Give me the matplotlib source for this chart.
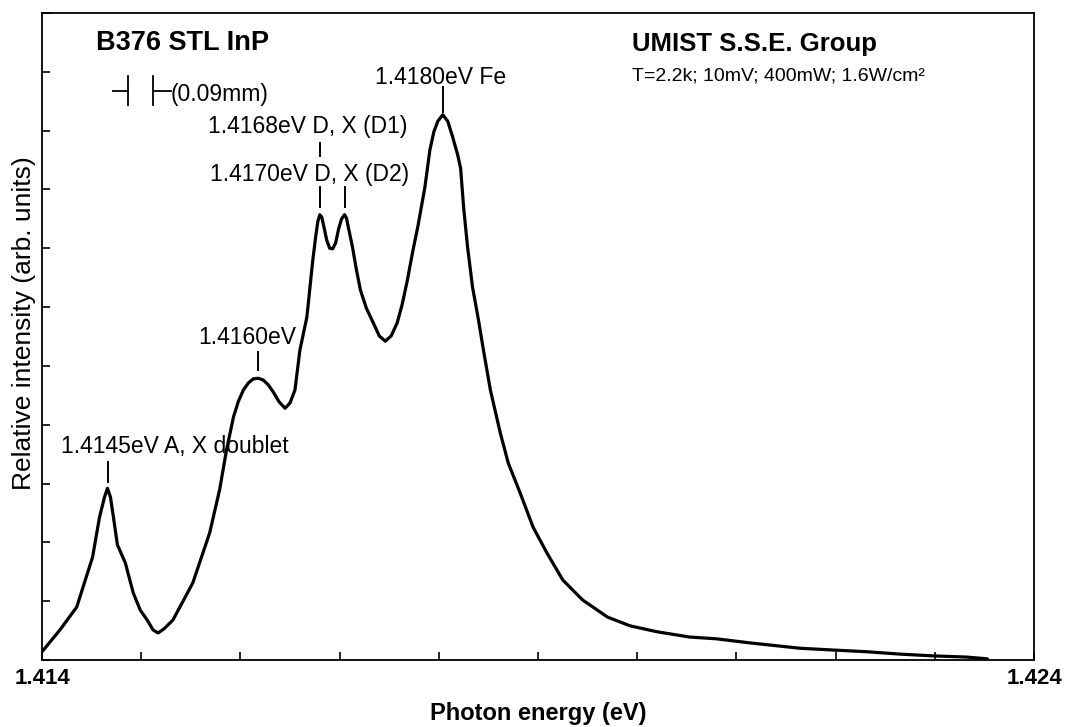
import matplotlib
matplotlib.use("Agg")
import matplotlib.pyplot as plt

plt.rcParams['font.family'] = ['Liberation Sans', 'DejaVu Sans']

# ---- data ----
energy_eV = [1.41400, 1.41418, 1.41435, 1.41451, 1.41458, 1.41463, 1.41466, 1.41469,
             1.41472, 1.41476, 1.41484, 1.41492, 1.41499, 1.41506, 1.41512, 1.41517,
             1.41523, 1.41532, 1.41552, 1.41569, 1.41579, 1.41586, 1.41593, 1.41598,
             1.41603, 1.41608, 1.41613, 1.41618, 1.41623, 1.41628, 1.41633, 1.41639,
             1.41645, 1.41650, 1.41655, 1.41660, 1.41667, 1.41673, 1.41676, 1.41678,
             1.41680, 1.41682, 1.41684, 1.41687, 1.41690, 1.41693, 1.41696, 1.41699,
             1.41702, 1.41705, 1.41707, 1.41709, 1.41713, 1.41717, 1.41721, 1.41727,
             1.41734, 1.41740, 1.41746, 1.41752, 1.41758, 1.41763, 1.41768, 1.41774,
             1.41779, 1.41786, 1.41791, 1.41795, 1.41799, 1.41804, 1.41809, 1.41814,
             1.41819, 1.41822, 1.41825, 1.41829, 1.41834, 1.41840, 1.41845, 1.41852,
             1.41862, 1.41870, 1.41882, 1.41895, 1.41909, 1.41925, 1.41945, 1.41970,
             1.41993, 1.42020, 1.42053, 1.42080, 1.42114, 1.42164, 1.42197, 1.42232,
             1.42265, 1.42298, 1.42332, 1.42353]
intensity = [0.14, 0.51, 0.90, 1.75, 2.43, 2.77, 2.92, 2.77,
             2.43, 1.96, 1.65, 1.14, 0.85, 0.68, 0.51, 0.46,
             0.53, 0.68, 1.31, 2.16, 2.89, 3.57, 4.13, 4.40,
             4.59, 4.71, 4.78, 4.79, 4.76, 4.68, 4.56, 4.39,
             4.28, 4.37, 4.59, 5.27, 5.83, 6.80, 7.21, 7.45,
             7.57, 7.53, 7.38, 7.14, 7.00, 6.99, 7.09, 7.33,
             7.50, 7.57, 7.51, 7.34, 7.02, 6.63, 6.29, 5.98,
             5.73, 5.51, 5.42, 5.51, 5.73, 6.04, 6.43, 6.97,
             7.38, 8.04, 8.67, 8.98, 9.16, 9.27, 9.16, 8.89,
             8.59, 8.36, 7.70, 7.02, 6.34, 5.78, 5.27, 4.59,
             3.86, 3.35, 2.84, 2.26, 1.82, 1.36, 1.02, 0.73,
             0.58, 0.48, 0.39, 0.36, 0.29, 0.20, 0.17, 0.14,
             0.10, 0.07, 0.05, 0.02]

x_min, x_max = 1.414, 1.424
y_min, y_max = 0, 11
x_tick_values = [1.414 + 0.001 * i for i in range(11)]
x_tick_labels = ['1.414'] + [''] * 9 + ['1.424']
y_tick_values = list(range(0, 12))

peak_labels = ['1.4180eV Fe', '1.4168eV D, X (D1)', '1.4170eV D, X (D2)',
               '1.4160eV', '1.4145eV A, X doublet']
peak_tick_energy = [1.41804, 1.41680, 1.41705, 1.41618, 1.41467]

W, H = 1066, 727
fig = plt.figure(figsize=(W / 100, H / 100), dpi=100)
L, R, T, B = 42, 1034, 13, 660
ax = fig.add_axes([L / W, (H - B) / H, (R - L) / W, (B - T) / H])

ax.plot(energy_eV, intensity, color='black', lw=2.3, solid_joinstyle='round',
        solid_capstyle='round')
ax.set_xlim(x_min, x_max)
ax.set_ylim(y_min, y_max)
ax.set_xticks(x_tick_values)
ax.set_xticklabels(x_tick_labels, fontsize=16, fontweight='bold')
ax.set_yticks(y_tick_values)
ax.set_yticklabels([])
ax.tick_params(axis='both', direction='in', length=6, width=1.2, color='black')
ax.tick_params(axis='x', pad=6)
for s in ax.spines.values():
    s.set_linewidth(1.3)

ax.set_xlabel('Photon energy (eV)', fontsize=17, fontweight='bold', labelpad=9)
ax.set_ylabel('Relative intensity (arb. units)', fontsize=19)
ax.yaxis.set_label_coords(-0.006, 0.521)


def px(xp):
    return x_min + (xp - L) / (R - L) * (x_max - x_min)


def py(yp):
    return y_min + (B - yp) / (B - T) * (y_max - y_min)


fs = 16.5
ax.text(px(96), py(43), 'B376 STL InP', fontsize=19.5, fontweight='bold', ha='left', va='center')
ax.text(px(632), py(44), 'UMIST S.S.E. Group', fontsize=18.5, fontweight='bold', ha='left', va='center')
ax.text(px(632), py(76), 'T=2.2k; 10mV; 400mW; 1.6W/cm²', fontsize=14, ha='left', va='center')

# slit-width bracket symbol
ax.plot([px(113), px(128)], [py(91), py(91)], color='black', lw=1.3)
ax.plot([px(128), px(128)], [py(76), py(105)], color='black', lw=1.3)
ax.plot([px(153), px(153)], [py(76), py(105)], color='black', lw=1.3)
ax.plot([px(153), px(171)], [py(91), py(91)], color='black', lw=1.3)
ax.text(px(171), py(94), '(0.09mm)', fontsize=fs, ha='left', va='center')

# peak labels
label_pos = [(441, 77), (308, 127), (310, 175), (247, 337), (175, 447)]
for lab, (tx, ty) in zip(peak_labels, label_pos):
    ax.text(px(tx), py(ty), lab, fontsize=fs, ha='center', va='center')

tick_spans = [(87, 112), (143, 156), (187, 207), (187, 207), (352, 370), (462, 482)]
tick_e = [peak_tick_energy[0], peak_tick_energy[1], peak_tick_energy[1],
          peak_tick_energy[2], peak_tick_energy[3], peak_tick_energy[4]]
for e, (t0, t1) in zip(tick_e, tick_spans):
    ax.plot([e, e], [py(t0), py(t1)], color='black', lw=1.4)

fig.savefig('out.png', dpi=100)
